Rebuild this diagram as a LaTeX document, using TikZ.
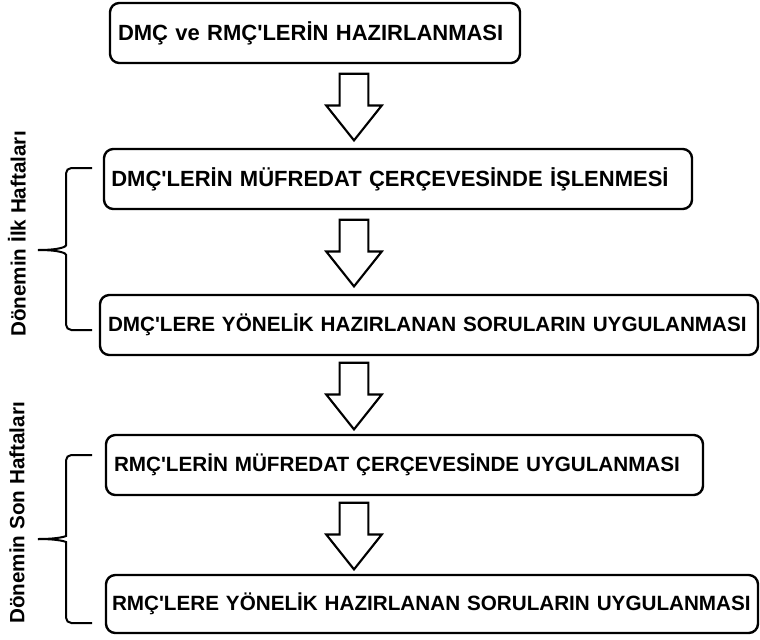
\documentclass[tikz,border=0pt]{standalone}
\usepackage{fontspec}
\setmainfont{Liberation Sans}[Ligatures=TeXOff]
\usepackage{tikz}
\usetikzlibrary{shapes.arrows, positioning, calc}
\tikzstyle{stepbox} = [rectangle, rounded corners=7pt, minimum height=45pt, inner xsep=6pt, outer sep=0pt, align=left, draw=black, line width=1.8pt, font=\fontsize{15.5}{18}\selectfont\bfseries]
\tikzstyle{bigtext} = [font=\fontsize{16.5}{19}\selectfont\bfseries]
\tikzstyle{flowarrow} = [single arrow, draw=black, line width=1.6pt, rotate=-90, anchor=tail, minimum height=50pt, minimum width=40pt, inner sep=10pt, single arrow head extend=10pt, single arrow tip angle=77]
\tikzstyle{weeklabel} = [rotate=90, font=\fontsize{15.5}{18}\selectfont\bfseries]
\tikzstyle{bracket} = [line width=1.5pt, rounded corners=4pt]

\begin{document}
\begin{tikzpicture}

    \useasboundingbox (0,0) rectangle (570pt,-479.25pt);

    % Nodes
    \node (prep) [stepbox, bigtext, text width=295.5pt, anchor=north west] at (82.5pt,-2.25pt) {DMÇ ve RMÇ'LERİN HAZIRLANMASI};
    \node (isle) [stepbox, bigtext, text width=430pt, inner xsep=5.5pt, below=64.5pt of prep.south west, anchor=north west, xshift=-4.5pt] {DMÇ'LERİN MÜFREDAT ÇERÇEVESİNDE İŞLENMESİ};
    \node (dmcsoru) [stepbox, text width=481.5pt, below=64.5pt of isle.south west, anchor=north west, xshift=-3pt] {DMÇ'LERE YÖNELİK HAZIRLANAN SORULARIN UYGULANMASI};
    \node (rmcuyg) [stepbox, text width=435.75pt, below=60pt of dmcsoru.south west, anchor=north west, xshift=4.5pt] {RMÇ'LERİN MÜFREDAT ÇERÇEVESİNDE UYGULANMASI};
    \node (rmcsoru) [stepbox, text width=480pt, inner xsep=4.5pt, minimum height=43.5pt, below=60pt of rmcuyg.south west, anchor=north west] {RMÇ'LERE YÖNELİK HAZIRLANAN SORULARIN UYGULANMASI};

    \node (ilk) [weeklabel] at (12.75pt,-175.5pt) {Dönemin İlk Haftaları};
    \node (son) [weeklabel] at (12.75pt,-384.75pt) {Dönemin Son Haftaları};

    % Arrows
    \coordinate (axis) at (265.5pt,0);
    \node (arr1) [flowarrow] at ($(prep.south -| axis)!0.5!(isle.north -| axis) + (0,25pt)$) {};
    \node (arr2) [flowarrow] at ($(isle.south -| axis)!0.5!(dmcsoru.north -| axis) + (0,25pt)$) {};
    \node (arr3) [flowarrow] at ($(dmcsoru.south -| axis)!0.5!(rmcuyg.north -| axis) + (0,25pt)$) {};
    \node (arr4) [flowarrow] at ($(rmcuyg.south -| axis)!0.5!(rmcsoru.north -| axis) + (0,25pt)$) {};

    % Braces
    \draw [bracket] (69pt,-126pt) -- (49.5pt,-126pt) -- (49.5pt,-180pt)
        .. controls (49.5pt,-185pt) and (45pt,-187.5pt) .. (28.5pt,-187.5pt);
    \draw [bracket] (28.5pt,-187.5pt) .. controls (45pt,-187.5pt) and (49.5pt,-190pt) .. (49.5pt,-195pt)
        -- (49.5pt,-247.5pt) -- (69pt,-247.5pt);
    \draw [bracket] (69pt,-341.25pt) -- (49.5pt,-341.25pt) -- (49.5pt,-398pt)
        .. controls (49.5pt,-402pt) and (45pt,-404.25pt) .. (28.5pt,-404.25pt);
    \draw [bracket] (28.5pt,-404.25pt) .. controls (45pt,-404.25pt) and (49.5pt,-406.5pt) .. (49.5pt,-410.5pt)
        -- (49.5pt,-467.25pt) -- (69pt,-467.25pt);

\end{tikzpicture}
\end{document}
